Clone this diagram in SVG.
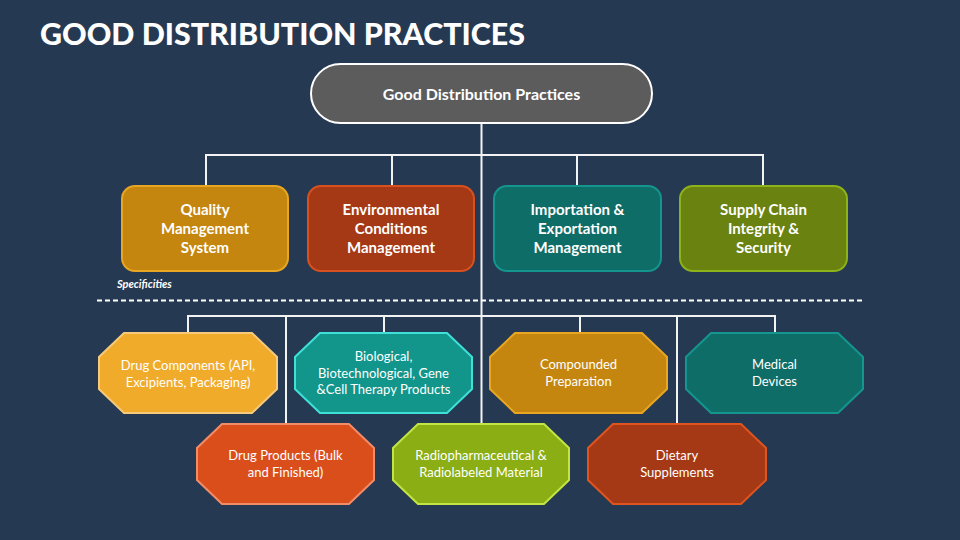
<svg xmlns="http://www.w3.org/2000/svg" width="960" height="540" viewBox="0 0 960 540">
<style>
.bg{fill:#253A52}
.title{font-family:Lato,"Open Sans","Liberation Sans",sans-serif;font-weight:900;font-size:31px;fill:#FFFFFF}
.hdr{font-family:Lato,"Liberation Sans",sans-serif;font-weight:700;font-size:16px;fill:#FFFFFF;text-anchor:middle}
.l2{font-family:Lato,"Liberation Sans",sans-serif;font-weight:700;font-size:15px;fill:#FFFFFF;text-anchor:middle}
.l3{font-family:Lato,"Liberation Sans",sans-serif;font-weight:400;font-size:13px;fill:#FFFFFF;text-anchor:middle}
.spec{font-family:Lato,"Liberation Sans",sans-serif;font-style:italic;font-weight:700;font-size:11px;fill:#FFFFFF}
.conn{stroke:#F2F2F2;stroke-width:2;fill:none}
.dash{stroke:#FFFFFF;stroke-width:2;stroke-dasharray:5 3;fill:none}
.box{stroke-width:2}
</style>
<rect class="bg" x="0" y="0" width="960" height="540"/>
<text class="title" x="40" y="45" textLength="485" lengthAdjust="spacingAndGlyphs">GOOD DISTRIBUTION PRACTICES</text>

<g id="connectors">
<path class="conn" d="M481.5 123 V424"/>
<path class="conn" d="M206 186 V155 H763 V186 M392 155 V186 M577 155 V186"/>
<path class="conn" d="M188 333 V316 H775 V333 M286 316 V424 M384 316 V333 M580 316 V333 M677 316 V424"/>
</g>

<g id="separator">
<path class="dash" d="M97 300.5 H862"/>
<text class="spec" x="117" y="288">Specificities</text>
</g>

<g id="node-root">
<rect x="311" y="64" width="341" height="59" rx="29.5" fill="#5C5C5C" stroke="#FFFFFF" stroke-width="2"/>
<text class="hdr" x="481.5" y="100">Good Distribution Practices</text>
</g>

<g id="node-qms">
<rect class="box" x="122" y="186" width="166" height="85" rx="13" fill="#C4860F" stroke="#E8A623"/>
<text class="l2" x="205" y="215">Quality</text>
<text class="l2" x="205" y="234">Management</text>
<text class="l2" x="205" y="253">System</text>
</g>
<g id="node-env">
<rect class="box" x="308" y="186" width="166" height="85" rx="13" fill="#A53915" stroke="#D9501F"/>
<text class="l2" x="391" y="215">Environmental</text>
<text class="l2" x="391" y="234">Conditions</text>
<text class="l2" x="391" y="253">Management</text>
</g>
<g id="node-import">
<rect class="box" x="494" y="186" width="167" height="85" rx="13" fill="#0F6D68" stroke="#14958D"/>
<text class="l2" x="577.5" y="215">Importation &amp;</text>
<text class="l2" x="577.5" y="234">Exportation</text>
<text class="l2" x="577.5" y="253">Management</text>
</g>
<g id="node-supply">
<rect class="box" x="680" y="186" width="167" height="85" rx="13" fill="#6A8210" stroke="#8DB21A"/>
<text class="l2" x="763.5" y="215">Supply Chain</text>
<text class="l2" x="763.5" y="234">Integrity &amp;</text>
<text class="l2" x="763.5" y="253">Security</text>
</g>

<g id="node-drug-components">
<polygon class="box" points="124,333 252,333 277,357 277,389 252,413 124,413 99,389 99,357" fill="#F0AB2A" stroke="#F7C97A"/>
<text class="l3" x="188" y="370">Drug Components (API,</text>
<text class="l3" x="188" y="386.5">Excipients, Packaging)</text>
</g>
<g id="node-biological">
<polygon class="box" points="320,333 447,333 472,357 472,389 447,413 320,413 295,389 295,357" fill="#12958A" stroke="#3FE0D8"/>
<text class="l3" x="383.5" y="361">Biological,</text>
<text class="l3" x="383.5" y="377.5">Biotechnological, Gene</text>
<text class="l3" x="383.5" y="394">&amp;Cell Therapy Products</text>
</g>
<g id="node-compounded">
<polygon class="box" points="515,333 642,333 667,357 667,389 642,413 515,413 490,389 490,357" fill="#C4860F" stroke="#E8A623"/>
<text class="l3" x="578.5" y="369">Compounded</text>
<text class="l3" x="578.5" y="385.5">Preparation</text>
</g>
<g id="node-medical">
<polygon class="box" points="711,333 838,333 863,357 863,389 838,413 711,413 686,389 686,357" fill="#0F6D68" stroke="#14958D"/>
<text class="l3" x="774.5" y="369">Medical</text>
<text class="l3" x="774.5" y="385.5">Devices</text>
</g>
<g id="node-drug-products">
<polygon class="box" points="222,424 349,424 374,448 374,480 349,504 222,504 197,480 197,448" fill="#DA4E1C" stroke="#F28C68"/>
<text class="l3" x="285.5" y="460">Drug Products (Bulk</text>
<text class="l3" x="285.5" y="476.5">and Finished)</text>
</g>
<g id="node-radio">
<polygon class="box" points="418,424 544,424 569,448 569,480 544,504 418,504 393,480 393,448" fill="#8AAE14" stroke="#C2E543"/>
<text class="l3" x="481" y="460">Radiopharmaceutical &amp;</text>
<text class="l3" x="481" y="476.5">Radiolabeled Material</text>
</g>
<g id="node-dietary">
<polygon class="box" points="613,424 741,424 766,448 766,480 741,504 613,504 588,480 588,448" fill="#A53915" stroke="#E0541F"/>
<text class="l3" x="677" y="460">Dietary</text>
<text class="l3" x="677" y="476.5">Supplements</text>
</g>
</svg>
